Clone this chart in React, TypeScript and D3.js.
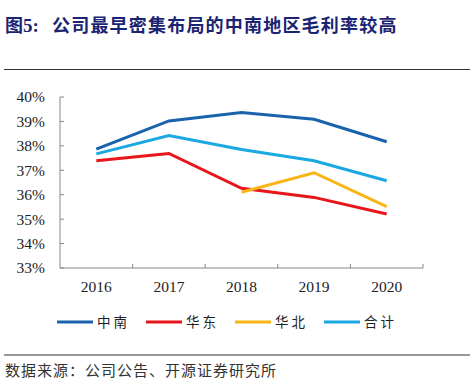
import React from "react";
import * as d3 from "d3";

const years = ["2016", "2017", "2018", "2019", "2020"];
const zhongnan = [37.87, 39.02, 39.37, 39.09, 38.17];
const huadong = [37.39, 37.69, 36.26, 35.89, 35.21];
const huabei = [null, null, 36.1, 36.9, 35.51];
const heji = [37.67, 38.42, 37.85, 37.39, 36.57];
const yTicks = [33, 34, 35, 36, 37, 38, 39, 40];

const series = [
  { name: "中南", values: zhongnan, color: "#1A62AC" },
  { name: "华东", values: huadong, color: "#E8161B" },
  { name: "华北", values: huabei, color: "#F9B515" },
  { name: "合计", values: heji, color: "#1AA8E2" },
];

const W = 474;
const H = 388;
const left = 60;
const right = 423;
const top = 97;
const bottom = 268;

const x = d3.scaleBand().domain(years).range([left, right]);
const y = d3.scaleLinear().domain([33, 40]).range([bottom, top]);

const serif = "'Liberation Serif', 'Times New Roman', serif";
const cjk = "'Noto Sans CJK SC', sans-serif";

const App = () => {
  const lineGen = d3
    .line<number | null>()
    .defined((d) => d != null)
    .x((_, i) => (x(years[i]) as number) + x.bandwidth() / 2)
    .y((d) => y(d as number));

  const legendX = [57, 146, 235, 324];

  return (
    <svg
      width={W}
      height={H}
      style={{ position: "absolute", left: 0, top: 0, background: "#fff" }}
    >
      <text x={5} y={32} fontSize={18} fontWeight="bold" fill="#1B2373" fontFamily={cjk}>
        图<tspan fontFamily={serif} fontSize={19}>5:</tspan>
        <tspan x={52} letterSpacing={1.2}>公司最早密集布局的中南地区毛利率较高</tspan>
      </text>
      <line x1={4} x2={470} y1={69.5} y2={69.5} stroke="#333" strokeWidth={1} />

      {/* y axis */}
      <line x1={left} x2={left} y1={top} y2={bottom} stroke="#888" />
      {yTicks.map((t) => (
        <g key={t}>
          <line x1={left} x2={left + 4} y1={y(t)} y2={y(t)} stroke="#888" />
          <text
            x={45}
            y={y(t)}
            dy="0.35em"
            textAnchor="end"
            fontSize={15.5}
            fontFamily={serif}
            fill="#222"
          >
            {t}%
          </text>
        </g>
      ))}

      {/* x axis */}
      <line x1={left} x2={right} y1={bottom} y2={bottom} stroke="#888" strokeWidth={1.2} />
      {years.map((yr) => (
        <g key={yr}>
          <line
            x1={(x(yr) as number) + x.bandwidth()}
            x2={(x(yr) as number) + x.bandwidth()}
            y1={bottom}
            y2={bottom - 4}
            stroke="#888"
          />
          <text
            x={(x(yr) as number) + x.bandwidth() / 2}
            y={292}
            textAnchor="middle"
            fontSize={15.5}
            fontFamily={serif}
            fill="#222"
          >
            {yr}
          </text>
        </g>
      ))}

      {series.map((s) => (
        <path
          key={s.name}
          d={lineGen(s.values) || ""}
          fill="none"
          stroke={s.color}
          strokeWidth={3}
        />
      ))}

      {/* legend */}
      {series.map((s, i) => (
        <g key={s.name}>
          <line
            x1={legendX[i]}
            x2={legendX[i] + 36}
            y1={322}
            y2={322}
            stroke={s.color}
            strokeWidth={3}
          />
          <text
            x={legendX[i] + 40}
            y={322}
            dy="0.36em"
            fontSize={13.5}
            fontFamily={cjk}
            fill="#222"
            letterSpacing={3}
          >
            {s.name}
          </text>
        </g>
      ))}

      <line x1={4} x2={470} y1={355} y2={355} stroke="#333" strokeWidth={1} />
      <text x={5} y={376} fontSize={15} fontFamily={cjk} fill="#333" letterSpacing={1}>
        数据来源：公司公告、开源证券研究所
      </text>
    </svg>
  );
};

export default App;
